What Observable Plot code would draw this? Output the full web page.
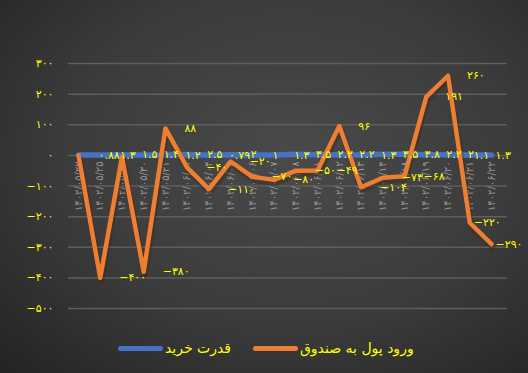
<!DOCTYPE html>
<html><head><meta charset="utf-8">
<script src="https://cdn.jsdelivr.net/npm/d3@7"></script>
<script src="https://cdn.jsdelivr.net/npm/@observablehq/plot@0.6"></script>
<style>
html,body{margin:0;padding:0;background:#2a2a2a;}
#wrap{position:relative;width:528px;height:373px;overflow:hidden;background:radial-gradient(ellipse 78% 82% at 55% 42%, #4a4a4a 0%, #3b3b3b 55%, #232323 100%);font-family:"DejaVu Sans",sans-serif;}
#chart svg{display:block;background:transparent;}
g[aria-label="xlabels"] text{letter-spacing:4.2px;}
.leg{position:absolute;top:338px;height:20px;display:flex;align-items:center;direction:ltr;}
.sw{width:45px;height:5px;border-radius:3px;}
.lt{color:#ffff00;font-size:14px;margin-left:2px;direction:rtl;font-family:"DejaVu Sans",sans-serif;}
</style></head><body>
<div id="wrap"><div id="chart"></div>
<div class="leg" style="left:118px"><div class="sw" style="background:rgb(68,114,196)"></div><span class="lt">قدرت خرید</span></div>
<div class="leg" style="left:253px"><div class="sw" style="background:rgb(238,126,50)"></div><span class="lt">ورود پول به صندوق</span></div>
</div>
<script>
const dates = ["1402/05/22","1402/05/25","1402/05/28","1402/05/30","1402/05/31","1402/06/01","1402/06/04","1402/06/05","1402/06/06","1402/06/07","1402/06/08","1402/06/11","1402/06/12","1402/06/13","1402/06/14","1402/06/18","1402/06/19","1402/06/20","1402/06/21","1402/06/22"];
const buyPower = [0.88, 1.3, 1.5, 1.4, 1.2, 2.5, 0.79, 2, 1, 1.3, 3.5, 2.2, 2.2, 1.3, 3.5, 3.8, 2.2, 2, 1.1, 1.3];
const fundFlow = [0, -400, -5, -380, 88, -40, -110, -20, -70, -80, -50, -49, 96, -104, -73, -68, 191, 260, -220, -290];
const flowLabelHidden = [0, 2];
const yTicks = [300, 200, 100, 0, -100, -200, -300, -400, -500];

const faDigits = "۰۱۲۳۴۵۶۷۸۹";
const fa = v => String(v).replace(/-/g, "−").replace(/\d/g, d => faDigits[d]);

const rows = dates.map((d, i) => ({i, date: d, buy: buyPower[i], flow: fundFlow[i]}));
const n = rows.length;
const isTail = d => d.i >= n - 2;

const ORANGE = "rgb(238,126,50)";
const BLUE = "rgb(68,114,196)";

const chart = Plot.plot({
  width: 528, height: 335,
  marginTop: 63, marginBottom: 27, marginLeft: 68, marginRight: 21,
  style: {background: "transparent", fontFamily: "DejaVu Sans", overflow: "visible"},
  x: {type: "linear", domain: [0, n - 1], range: [78, 491], axis: null},
  y: {domain: [-500, 300], axis: null},
  marks: [
    Plot.ruleY(yTicks, {stroke: "#5e5e5e", strokeWidth: 1.5}),
    Plot.axisY(yTicks, {tickSize: 0, tickPadding: 15, fill: "#ffff00", fontSize: 11, tickFormat: fa}),
    Plot.text(rows, {x: "i", y: 0, text: d => fa(d.date), rotate: -90, textAnchor: "end", dy: 6, fill: "#a8a8a8", fillOpacity: 0.85, fontSize: 10, ariaLabel: "xlabels"}),
    Plot.line(rows, {x: "i", y: "buy", stroke: BLUE, strokeWidth: 5.5, strokeLinecap: "round"}),
    Plot.line(rows, {x: "i", y: "flow", stroke: "#3a2a20", strokeOpacity: 0.45, strokeWidth: 6, strokeLinejoin: "round", dx: 1, dy: 3}),
    Plot.line(rows, {x: "i", y: "flow", stroke: ORANGE, strokeWidth: 4.5, strokeLinejoin: "round", strokeLinecap: "round"}),
    Plot.text(rows.filter(d => !isTail(d)), {x: "i", y: "buy", text: d => fa(d.buy), textAnchor: "start", dx: 20, fill: "#ffff00", fontSize: 11}),
    Plot.text(rows.filter(isTail), {x: "i", y: "buy", text: d => fa(d.buy), textAnchor: "start", dx: 4, fill: "#ffff00", fontSize: 11}),
    Plot.text(rows.filter(d => !flowLabelHidden.includes(d.i) && !isTail(d)), {x: "i", y: "flow", text: d => fa(d.flow), textAnchor: "start", dx: 19, fill: "#ffff00", fontSize: 11}),
    Plot.text(rows.filter(isTail), {x: "i", y: "flow", text: d => fa(d.flow), textAnchor: "start", dx: 4, fill: "#ffff00", fontSize: 11})
  ]
});
document.getElementById("chart").appendChild(chart);
</script>
</body></html>
